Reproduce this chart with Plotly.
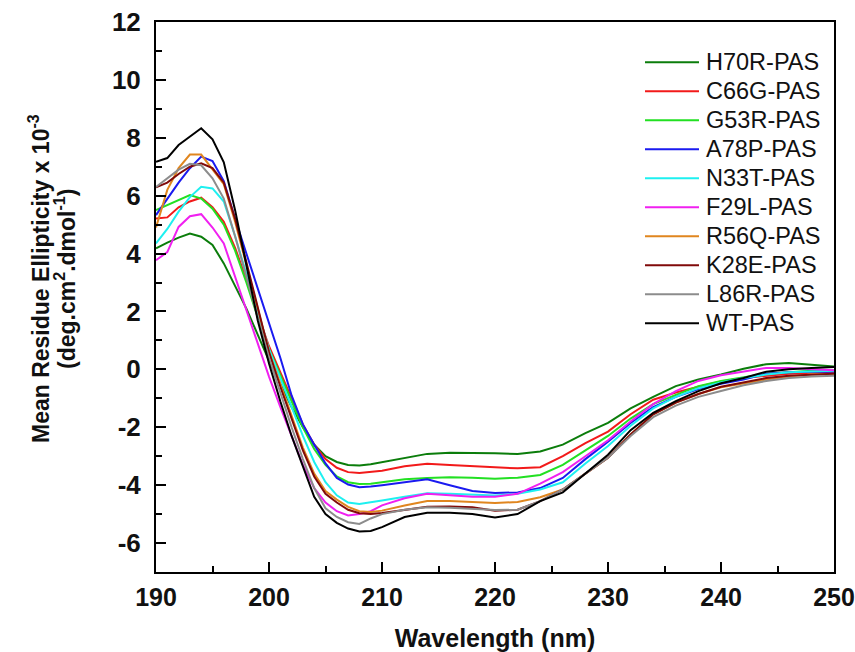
import plotly.graph_objects as go

wavelength = [190, 191, 192, 193, 194, 195, 196, 197, 198, 199, 200, 201, 202, 203, 204, 205, 206, 207, 208, 209, 210,
              212, 214, 216, 218, 220, 222, 224, 226, 228, 230, 232, 234, 236, 238, 240, 242, 244, 246, 248, 250]

series_names = ["H70R-PAS", "C66G-PAS", "G53R-PAS", "A78P-PAS", "N33T-PAS",
                "F29L-PAS", "R56Q-PAS", "K28E-PAS", "L86R-PAS", "WT-PAS"]

h70r = [4.18, 4.38, 4.55, 4.69, 4.58, 4.3, 3.66, 2.9, 2.1, 1.2, 0.3, -0.5, -1.3, -2.0, -2.6, -3.0, -3.2, -3.3, -3.32, -3.28, -3.21,
        -3.05, -2.92, -2.88, -2.88, -2.9, -2.92, -2.84, -2.6, -2.2, -1.85, -1.35, -0.95, -0.58, -0.35, -0.18, 0.02, 0.18, 0.22, 0.15, 0.1]
c66g = [5.21, 5.25, 5.6, 5.8, 5.93, 5.6, 5.1, 4.2, 3.1, 1.9, 0.8, -0.1, -1.0, -1.9, -2.6, -3.1, -3.4, -3.55, -3.58, -3.55, -3.5,
        -3.35, -3.26, -3.3, -3.35, -3.38, -3.42, -3.38, -3.0, -2.55, -2.15, -1.55, -1.05, -0.8, -0.6, -0.42, -0.3, -0.22, -0.15, -0.12, -0.09]
g53r = [5.5, 5.67, 5.85, 6.02, 5.9, 5.55, 5.0, 4.1, 3.0, 1.8, 0.7, -0.2, -1.1, -2.0, -2.75, -3.3, -3.7, -3.9, -3.96, -3.95, -3.9,
        -3.8, -3.75, -3.73, -3.74, -3.78, -3.74, -3.65, -3.3, -2.8, -2.3, -1.7, -1.2, -0.88, -0.58, -0.4, -0.27, -0.15, -0.1, -0.05, -0.03]
a78p = [5.33, 5.9, 6.45, 6.95, 7.35, 7.2, 6.5, 5.2, 4.0, 2.8, 1.6, 0.4, -0.9, -1.9, -2.6, -3.25, -3.75, -3.98, -4.07, -4.05, -4.0,
        -3.9, -3.8, -4.0, -4.2, -4.27, -4.25, -4.1, -3.75, -3.1, -2.5, -1.85, -1.3, -0.95, -0.68, -0.5, -0.35, -0.15, -0.1, -0.08, -0.08]
n33t = [4.35, 4.85, 5.45, 5.95, 6.31, 6.25, 5.8, 4.6, 3.3, 2.0, 0.7, -0.3, -1.3, -2.3, -3.2, -3.9, -4.35, -4.6, -4.65, -4.6, -4.53,
        -4.4, -4.28, -4.3, -4.33, -4.36, -4.3, -4.15, -3.9, -3.25, -2.65, -1.95, -1.35, -0.95, -0.65, -0.45, -0.3, -0.18, -0.1, -0.07, -0.05]
f29l = [3.77, 4.05, 4.92, 5.29, 5.36, 4.9, 4.35, 3.2, 2.1, 0.9, -0.25, -1.3, -2.3, -3.3, -4.1, -4.6, -4.9, -5.05, -5.0, -4.9, -4.7,
        -4.45, -4.3, -4.35, -4.4, -4.4, -4.3, -3.95, -3.55, -3.0, -2.45, -1.8, -1.2, -0.75, -0.4, -0.2, -0.07, 0.05, 0.05, 0.0, -0.03]
r56q = [4.9, 6.2, 6.95, 7.42, 7.42, 6.9, 6.4, 5.1, 3.6, 2.0, 0.6, -0.5, -1.6, -2.7, -3.6, -4.2, -4.5, -4.75, -4.9, -4.93, -4.88,
        -4.7, -4.55, -4.55, -4.58, -4.62, -4.58, -4.42, -4.15, -3.6, -3.05, -2.25, -1.55, -1.15, -0.85, -0.62, -0.48, -0.35, -0.25, -0.18, -0.15]
k28e = [6.29, 6.45, 6.75, 7.0, 7.12, 6.95, 6.45, 5.2, 3.7, 2.1, 0.6, -0.6, -1.7, -2.8, -3.7, -4.3, -4.6, -4.85, -4.97, -5.0, -4.96,
        -4.85, -4.75, -4.74, -4.76, -4.88, -4.85, -4.55, -4.15, -3.6, -3.05, -2.25, -1.55, -1.15, -0.85, -0.6, -0.45, -0.3, -0.22, -0.18, -0.15]
l86r = [6.3, 6.6, 6.9, 7.1, 7.05, 6.6, 5.9, 4.6, 3.2, 1.8, 0.4, -0.8, -2.0, -3.1, -4.1, -4.8, -5.1, -5.28, -5.34, -5.15, -5.0,
        -4.85, -4.76, -4.78, -4.82, -4.86, -4.85, -4.55, -4.15, -3.6, -3.05, -2.3, -1.65, -1.25, -0.95, -0.75, -0.55, -0.4, -0.3, -0.25, -0.22]
wt = [7.17, 7.3, 7.75, 8.05, 8.33, 7.95, 7.15, 5.5, 3.6, 1.7, 0.2, -1.1, -2.3, -3.35, -4.4, -5.0, -5.3, -5.5, -5.6, -5.58, -5.45,
      -5.1, -4.95, -4.95, -5.0, -5.12, -5.0, -4.55, -4.25, -3.6, -2.95, -2.1, -1.5, -1.1, -0.75, -0.48, -0.3, -0.08, 0.0, 0.05, 0.08]

series_values = [h70r, c66g, g53r, a78p, n33t, f29l, r56q, k28e, l86r, wt]
colors = ["#0B7D0B", "#F21A1A", "#22E022", "#1A1AF0", "#1EF0F0",
          "#F020F0", "#E0861F", "#800A0A", "#8C8C8C", "#000000"]

x_ticks = [190, 200, 210, 220, 230, 240, 250]
y_ticks = [-6, -4, -2, 0, 2, 4, 6, 8, 10, 12]

y_title_lines = ["<b>Mean Residue Ellipticity x 10<sup>-3</sup></b>",
                 "<b>(deg.cm<sup>2</sup>.dmol<sup>-1</sup>)</b>"]

FONT = "Liberation Sans, Arial, sans-serif"

fig = go.Figure()
for name, vals, col in zip(series_names, series_values, colors):
    fig.add_trace(go.Scatter(x=wavelength, y=vals, mode="lines", name=name,
                             line=dict(color=col, width=2), showlegend=False))

plot_top, plot_bottom, plot_left, plot_right = 22, 572, 156, 834
H = plot_bottom - plot_top
W = plot_right - plot_left

# manual legend with long line samples
leg_top = 62.3
leg_step = 29.0
for i, (name, col) in enumerate(zip(series_names, colors)):
    ypx = leg_top + i * leg_step
    yp = (plot_bottom - ypx) / H
    fig.add_shape(type="line", xref="paper", yref="paper",
                  x0=(645 - plot_left) / W, x1=(699 - plot_left) / W, y0=yp, y1=yp,
                  line=dict(color=col, width=2))
    fig.add_annotation(xref="paper", yref="paper", x=(704 - plot_left) / W, y=yp,
                       xanchor="left", yanchor="middle", text=name, showarrow=False,
                       font=dict(family=FONT, size=23.5, color="#111111"))

# y title, two lines
for txt, xc in zip(y_title_lines, [39, 65]):
    fig.add_annotation(xref="paper", yref="paper", x=(xc - plot_left) / W, y=(plot_bottom - 279) / H,
                       xanchor="center", yanchor="middle", textangle=-90, showarrow=False,
                       text=txt, font=dict(family=FONT, size=23, color="#111111"))

axis_common = dict(
    showline=True, linecolor="black", linewidth=2, mirror=True,
    ticks="inside", ticklen=10, tickwidth=2, tickcolor="black",
    showgrid=False, zeroline=False, automargin=False,
)

fig.update_xaxes(range=[190, 250], tickvals=x_ticks, ticktext=[str(v) for v in x_ticks],
                 minor=dict(ticks="inside", ticklen=6, tickwidth=2, tickcolor="black", dtick=5, tick0=190),
                 ticklabelstandoff=2,
                 tickfont=dict(family=FONT, size=25, color="#111111", weight="bold"),
                 title=dict(text="<b>Wavelength (nm)</b>", font=dict(family=FONT, size=25, color="#111111"), standoff=22),
                 **axis_common)
fig.update_yaxes(range=[-7, 12], tickvals=y_ticks, ticktext=[str(v) for v in y_ticks],
                 minor=dict(ticks="inside", ticklen=6, tickwidth=2, tickcolor="black", dtick=1, tick0=0),
                 ticklabelstandoff=8,
                 tickfont=dict(family=FONT, size=26, color="#111111", weight="bold"),
                 **axis_common)

fig.update_layout(width=855, height=652, margin=dict(l=156, r=21, t=22, b=80),
                  plot_bgcolor="white", paper_bgcolor="white", showlegend=False)

fig.write_html("out.html", config={"displayModeBar": False, "staticPlot": True},
               post_script="document.body.style.margin='0';document.body.style.overflow='hidden';")
